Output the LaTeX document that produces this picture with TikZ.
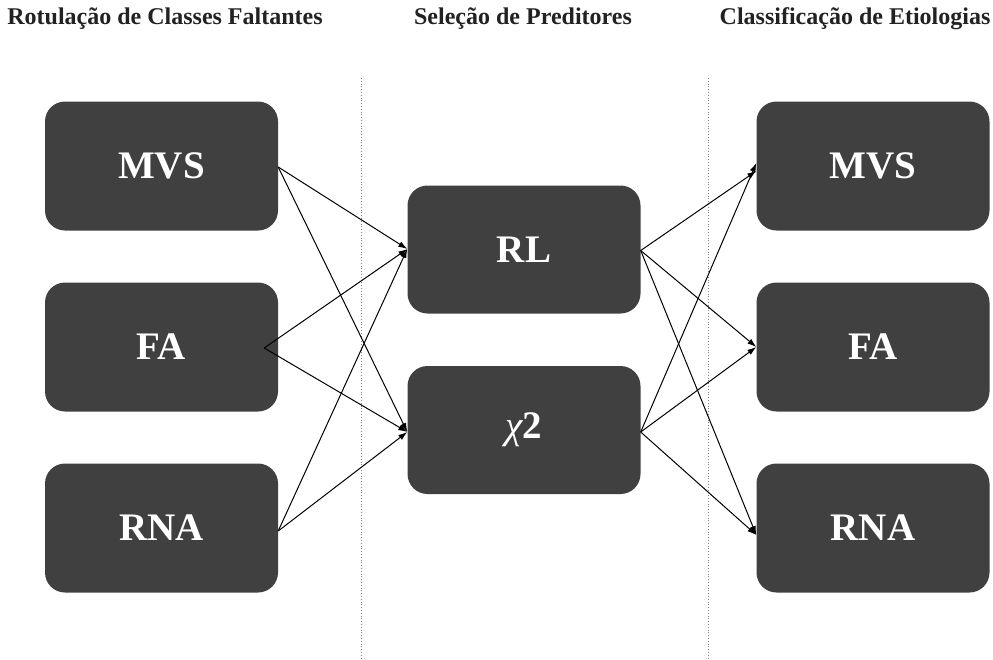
\documentclass[tikz,border=0pt]{standalone}
\usepackage{fontspec}
\setmainfont{Liberation Serif}
\usetikzlibrary{arrows.meta}
\definecolor{boxgray}{HTML}{404040}
\definecolor{headgray}{HTML}{222222}
\begin{document}
\begin{tikzpicture}[x=1pt,y=-1pt,
  block/.style={draw=none,fill=boxgray,rounded corners=20pt,
    minimum width=233pt,minimum height=129pt,inner sep=0pt,
    text=white,font=\fontsize{39}{41}\selectfont\bfseries},
  heading/.style={text=headgray,font=\fontsize{24}{26}\selectfont\bfseries,inner sep=0pt},
  link/.style={draw=black,line width=1pt,-{Latex[length=9pt,width=6pt]}},
  divider/.style={draw=gray,line width=0.8pt,dotted}]
\useasboundingbox (0,0) rectangle (993,659);

% column headings
\node[heading] (h1) at (165,19) {Rotulação de Classes Faltantes};
\node[heading] (h2) at (523,19) {Seleção de Preditores};
\node[heading] (h3) at (855,19) {Classificação de Etiologias};

% dotted separators
\coordinate (d1t) at (361,78); \coordinate (d1b) at (361,659);
\coordinate (d2t) at (708,78); \coordinate (d2b) at (708,659);
\draw[divider] (d1t) -- (d1b);
\draw[divider] (d2t) -- (d2b);

% left column
\node[block] (lmvs) at (161.5,166) {MVS};
\node[block] (lfa)  at (161.5,347) {FA};
\node[block] (lrna) at (161.5,528) {RNA};

% middle column
\node[block,minimum height=128pt] (rl)  at (524,249.5) {RL};
\node[block,minimum height=128pt] (chi) at (524,430) {{\mdseries\itshape χ}2};

% right column
\node[block] (rmvs) at (873,166) {MVS};
\node[block] (rfa)  at (873,347) {FA};
\node[block] (rrna) at (873,528) {RNA};

% connectors into the selection stage
\draw[link] ([yshift=-1pt]lmvs.east) -- ([yshift=0.5pt]rl.west);
\draw[link] ([yshift=-1pt]lmvs.east) -- ([yshift=-2pt]chi.west);
\draw[link] ([xshift=-14pt,yshift=-1pt]lfa.east) -- ([yshift=0.5pt]rl.west);
\draw[link] ([xshift=-14pt,yshift=-1pt]lfa.east) -- ([yshift=-2pt]chi.west);
\draw[link] ([yshift=-3pt]lrna.east) -- ([yshift=0.5pt]rl.west);
\draw[link] ([yshift=-3pt]lrna.east) -- ([yshift=-2pt]chi.west);

% connectors into the classification stage
\draw[link] ([yshift=-1pt]rl.east) -- ([yshift=-5pt]rmvs.west);
\draw[link] ([yshift=-1pt]rl.east) -- ([yshift=0pt]rfa.west);
\draw[link] ([yshift=-1pt]rl.east) -- ([yshift=-7pt]rrna.west);
\draw[link] ([yshift=-2pt]chi.east) -- ([yshift=3pt]rmvs.west);
\draw[link] ([yshift=-2pt]chi.east) -- ([yshift=0pt]rfa.west);
\draw[link] ([yshift=-2pt]chi.east) -- ([yshift=-7pt]rrna.west);
\end{tikzpicture}
\end{document}
